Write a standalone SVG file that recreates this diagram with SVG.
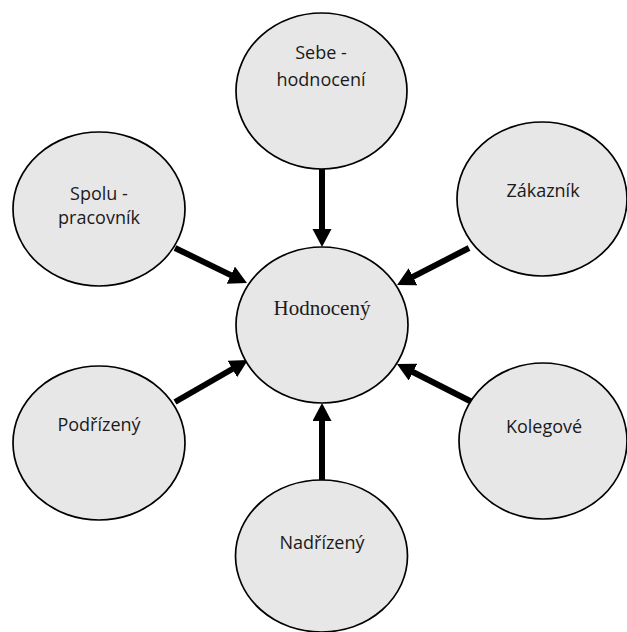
<svg xmlns="http://www.w3.org/2000/svg" width="627" height="632" viewBox="0 0 627 632">
<style>
.node ellipse{fill:#e7e7e7;stroke:#000;stroke-width:1.7}
.lbl{font-family:"Open Sans","Liberation Sans",sans-serif;font-size:18px;fill:#1a1a1a;text-anchor:middle}
.ser{font-family:"Liberation Serif","DejaVu Serif",serif;font-size:21px;fill:#1a1a1a;text-anchor:middle}
.conn line{stroke:#000;stroke-width:6;marker-end:url(#ah)}
</style>
<defs>
<marker id="ah" markerUnits="userSpaceOnUse" markerWidth="20" markerHeight="20" refX="8" refY="9.5" orient="auto">
<path d="M0,0 L18,9.5 L0,19 z" fill="#000"/>
</marker>
</defs>
<rect width="627" height="632" fill="#fff"/>
<g id="connectors" class="conn">
<line x1="322" y1="169" x2="322" y2="237"/>
<line x1="175" y1="248" x2="238" y2="278.6"/>
<line x1="469" y1="248" x2="405.9" y2="280.4"/>
<line x1="175" y1="402" x2="239.3" y2="365"/>
<line x1="472" y1="402" x2="405.9" y2="368.5"/>
<line x1="322" y1="480" x2="322" y2="413"/>
</g>
<g id="hodnoceny" class="node"><ellipse cx="322" cy="325" rx="86" ry="78"/><text class="ser" x="322" y="315">Hodnocený</text></g>
<g id="sebehodnoceni" class="node"><ellipse cx="321.5" cy="91" rx="85.5" ry="78"/><text class="lbl" x="321" y="59">Sebe -</text><text class="lbl" x="321" y="86">hodnocení</text></g>
<g id="spolupracovnik" class="node"><ellipse cx="99" cy="209" rx="86" ry="77"/><text class="lbl" x="99" y="200">Spolu -</text><text class="lbl" x="99" y="224">pracovník</text></g>
<g id="zakaznik" class="node"><ellipse cx="542" cy="199" rx="85" ry="77"/><text class="lbl" x="543" y="197">Zákazník</text></g>
<g id="podrizeny" class="node"><ellipse cx="99" cy="443" rx="86" ry="77"/><text class="lbl" x="99" y="431">Podřízený</text></g>
<g id="kolegove" class="node"><ellipse cx="543" cy="441" rx="84" ry="78"/><text class="lbl" x="544" y="433">Kolegové</text></g>
<g id="nadrizeny" class="node"><ellipse cx="321.5" cy="556" rx="86" ry="76"/><text class="lbl" x="322" y="549">Nadřízený</text></g>
</svg>
